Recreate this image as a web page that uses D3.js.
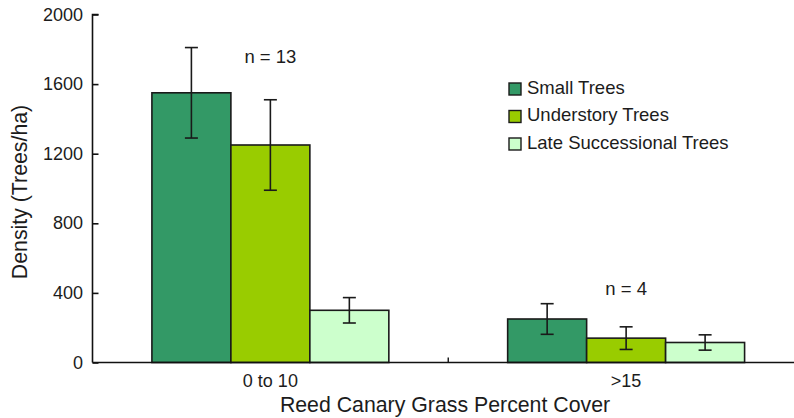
<!DOCTYPE html>
<html>
<head>
<meta charset="utf-8">
<script src="https://cdn.jsdelivr.net/npm/d3@7"></script>
<style>
  html, body { margin: 0; padding: 0; background: #fff; }
  svg { display: block; font-family: "Liberation Sans", Arial, Helvetica, sans-serif; }
</style>
</head>
<body>
<svg id="chart" width="794" height="418"></svg>
<script>
// Tree density by reed canary grass cover class
const groups = ["0 to 10", ">15"];
const sampleSizes = ["n = 13", "n = 4"];
const seriesNames = ["Small Trees", "Understory Trees", "Late Successional Trees"];
const seriesColors = ["#339966", "#99cc00", "#ccffcc"];
const smallTrees = [1550, 250];
const understoryTrees = [1250, 140];
const lateSuccessional = [300, 115];
const smallTreesErr = [260, 88];
const understoryTreesErr = [260, 65];
const lateSuccessionalErr = [73, 44];
const yTicks = [0, 400, 800, 1200, 1600, 2000];

const seriesValues = [smallTrees, understoryTrees, lateSuccessional];
const seriesErrors = [smallTreesErr, understoryTreesErr, lateSuccessionalErr];

const svg = d3.select("#chart");
const plotLeft = 92.5, plotRight = 804, plotTop = 14.5, plotBottom = 362.5;

const x0 = d3.scaleBand().domain(groups).range([plotLeft, plotRight])
  .paddingInner(0.334).paddingOuter(0.167);
const x1 = d3.scaleBand().domain(seriesNames).range([0, x0.bandwidth()]);
const y = d3.scaleLinear().domain([0, 2000]).range([plotBottom, plotTop]);

// Bars with error bars
const data = [];
groups.forEach((g, gi) => {
  seriesNames.forEach((s, si) => {
    data.push({ g, s, si, v: seriesValues[si][gi], e: seriesErrors[si][gi] });
  });
});

const bars = svg.append("g");
bars.selectAll("rect").data(data).join("rect")
  .attr("x", d => x0(d.g) + x1(d.s))
  .attr("y", d => y(d.v))
  .attr("width", x1.bandwidth())
  .attr("height", d => y(0) - y(d.v))
  .attr("fill", d => seriesColors[d.si])
  .attr("stroke", "#1a1a1a")
  .attr("stroke-width", 1.6);

const err = svg.append("g").attr("stroke", "#1a1a1a").attr("stroke-width", 1.6);
data.forEach(d => {
  const cx = x0(d.g) + x1(d.s) + x1.bandwidth() / 2;
  err.append("line").attr("x1", cx).attr("x2", cx).attr("y1", y(d.v + d.e)).attr("y2", y(d.v - d.e));
  err.append("line").attr("x1", cx - 6.5).attr("x2", cx + 6.5).attr("y1", y(d.v + d.e)).attr("y2", y(d.v + d.e));
  err.append("line").attr("x1", cx - 6.5).attr("x2", cx + 6.5).attr("y1", y(d.v - d.e)).attr("y2", y(d.v - d.e));
});

// Y axis, ticks pointing inward
const yAxis = svg.append("g").attr("transform", `translate(${plotLeft},0)`)
  .call(d3.axisRight(y).tickValues(yTicks).tickSize(6).tickFormat(""));
yAxis.select(".domain").attr("d", `M6,${plotTop}H0V${plotBottom}`).attr("stroke", "#111").attr("stroke-width", 1.6);
yAxis.selectAll(".tick line").attr("stroke", "#111").attr("stroke-width", 1.6);
svg.append("g").selectAll("text").data(yTicks).join("text")
  .attr("x", 83).attr("y", d => y(d)).attr("dy", "0.34em")
  .attr("text-anchor", "end").attr("font-size", 18).attr("fill", "#1c1c1c")
  .text(d => d);

// X axis: baseline with separator ticks between groups
svg.append("line").attr("x1", plotLeft).attr("x2", 794).attr("y1", plotBottom).attr("y2", plotBottom)
  .attr("stroke", "#111").attr("stroke-width", 1.6);
const seps = [x0(groups[1]) - x0.step() * x0.paddingInner() / 2];
svg.append("g").selectAll("line").data(seps).join("line")
  .attr("x1", d => d).attr("x2", d => d).attr("y1", plotBottom).attr("y2", plotBottom - 5)
  .attr("stroke", "#111").attr("stroke-width", 1.4);
svg.append("g").selectAll("text").data(groups).join("text")
  .attr("x", d => x0(d) + x0.bandwidth() / 2).attr("y", 386.5)
  .attr("text-anchor", "middle").attr("font-size", 18).attr("fill", "#1c1c1c")
  .text(d => d);

// Sample size labels above each group
svg.append("g").selectAll("text").data(groups).join("text")
  .attr("x", d => x0(d) + x0.bandwidth() / 2)
  .attr("y", (d, i) => y(d3.max(seriesValues, s => s[i]) + d3.max(seriesErrors, s => s[i])) - (i === 0 ? -15 : 9))
  .attr("text-anchor", "middle").attr("font-size", 18.5).attr("fill", "#1c1c1c")
  .text((d, i) => sampleSizes[i]);

// Axis titles
svg.append("text").attr("x", 445).attr("y", 412)
  .attr("text-anchor", "middle").attr("font-size", 21.3).attr("fill", "#1c1c1c")
  .text("Reed Canary Grass Percent Cover");
svg.append("text").attr("transform", "translate(27,192) rotate(-90)")
  .attr("text-anchor", "middle").attr("font-size", 21.3).attr("fill", "#1c1c1c")
  .text("Density (Trees/ha)");

// Legend
const legend = svg.append("g").attr("transform", "translate(509,83)");
const row = legend.selectAll("g").data(seriesNames).join("g")
  .attr("transform", (d, i) => `translate(0,${i * 27.5})`);
row.append("rect").attr("width", 12).attr("height", 12)
  .attr("fill", (d, i) => seriesColors[i]).attr("stroke", "#1a1a1a").attr("stroke-width", 1.4);
row.append("text").attr("x", 18).attr("y", 10.5).attr("font-size", 18.5).attr("fill", "#1c1c1c")
  .text(d => d);
</script>
</body>
</html>
